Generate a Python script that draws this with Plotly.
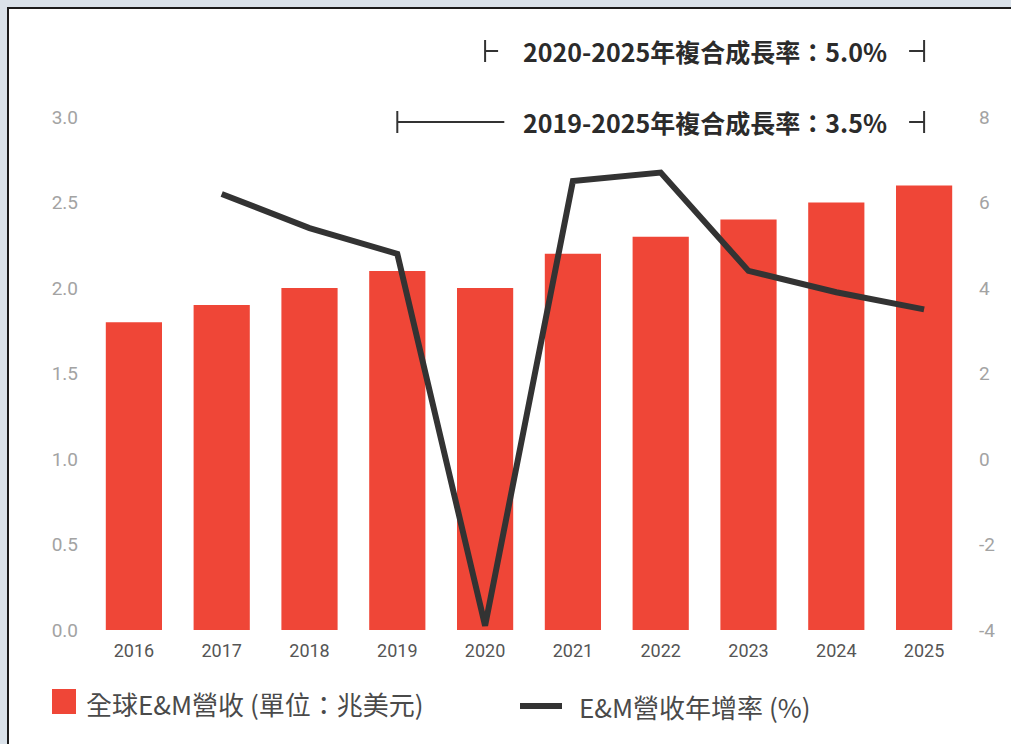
import plotly.graph_objects as go

# Global entertainment & media revenue and its annual growth rate
years = ["2016", "2017", "2018", "2019", "2020", "2021", "2022", "2023", "2024", "2025"]
revenue = [1.8, 1.9, 2.0, 2.1, 2.0, 2.2, 2.3, 2.4, 2.5, 2.6]          # trillion USD
growth = [None, 6.2, 5.4, 4.8, -3.9, 6.5, 6.7, 4.4, 3.9, 3.5]        # % YoY

left_ticks = [0, 0.5, 1.0, 1.5, 2.0, 2.5, 3.0]
right_ticks = [-4, -2, 0, 2, 4, 6, 8]

cagr_labels = ["2020-2025年複合成長率：5.0%", "2019-2025年複合成長率：3.5%"]
legend_labels = ["全球E&M營收 (單位：兆美元)", "E&M營收年增率 (%)"]

RED = "#ef4637"
DARK = "#333333"
CJK = "Noto Sans CJK TC, Noto Sans CJK SC, sans-serif"
NUM = "Liberation Sans Narrow, Roboto, Liberation Sans, sans-serif"

W, H = 1011, 744
ML, MR, MT, MB = 90, 43, 117, 114
PW, PH = W - ML - MR, H - MT - MB


def px_x(p):
    return (p - ML) / PW


def px_y(p):
    return (H - MB - p) / PH


fig = go.Figure()
fig.add_trace(go.Bar(
    x=years, y=revenue, marker=dict(color=RED, line=dict(width=0)),
    name=legend_labels[0], showlegend=False, yaxis="y",
))
fig.add_trace(go.Scatter(
    x=years, y=growth, mode="lines", line=dict(color=DARK, width=6),
    name=legend_labels[1], showlegend=False, yaxis="y2",
))

shapes = []
# white card with a dark frame
shapes.append(dict(type="rect", xref="paper", yref="paper", layer="below",
                   x0=px_x(8), x1=px_x(1030), y0=px_y(770), y1=px_y(8),
                   fillcolor="white", line=dict(color="#1c1c1c", width=2)))

# CAGR range brackets
i2019, i2020, i2025 = years.index("2019"), years.index("2020"), years.index("2025")
bracket_rows = [(i2020, 51, 13), (i2019, 122, 107)]
for start_idx, yc, stub in bracket_rows:
    # left vertical bar and stub
    shapes.append(dict(type="line", xref="x", yref="paper", x0=start_idx, x1=start_idx,
                       y0=px_y(yc - 11), y1=px_y(yc + 11), line=dict(color=DARK, width=2)))
    shapes.append(dict(type="line", xref="x", yref="paper", xsizemode="pixel", xanchor=start_idx,
                       x0=0, x1=stub, y0=px_y(yc), y1=px_y(yc), line=dict(color=DARK, width=2)))
    # right stub and vertical bar
    shapes.append(dict(type="line", xref="x", yref="paper", x0=i2025, x1=i2025,
                       y0=px_y(yc - 11), y1=px_y(yc + 11), line=dict(color=DARK, width=2)))
    shapes.append(dict(type="line", xref="x", yref="paper", xsizemode="pixel", xanchor=i2025,
                       x0=-15, x1=0, y0=px_y(yc), y1=px_y(yc), line=dict(color=DARK, width=2)))

# legend keys
shapes.append(dict(type="rect", xref="paper", yref="paper",
                   x0=px_x(52), x1=px_x(76), y0=px_y(714), y1=px_y(689),
                   fillcolor=RED, line=dict(width=0)))
shapes.append(dict(type="line", xref="paper", yref="paper",
                   x0=px_x(520), x1=px_x(562), y0=px_y(706), y1=px_y(706),
                   line=dict(color=DARK, width=6)))

annotations = []
for label, yc in zip(cagr_labels, [51, 122]):
    annotations.append(dict(text=label, xref="x", yref="paper", x=(i2020 + i2025) / 2,
                            y=px_y(yc), xanchor="center", yanchor="middle", showarrow=False,
                            font=dict(family=CJK, size=25, color="#2b2b2b", weight="bold")))
annotations.append(dict(text=legend_labels[0], xref="paper", yref="paper", x=px_x(84),
                        y=px_y(703), xanchor="left", yanchor="middle", showarrow=False,
                        font=dict(family=CJK, size=26, color="#4a4a4a")))
annotations.append(dict(text=legend_labels[1], xref="paper", yref="paper", x=px_x(577),
                        y=px_y(706), xanchor="left", yanchor="middle", showarrow=False,
                        font=dict(family=CJK, size=26, color="#4a4a4a")))

fig.update_layout(
    width=W, height=H,
    margin=dict(l=ML, r=MR, t=MT, b=MB, pad=0),
    paper_bgcolor="#dae2ea",
    plot_bgcolor="rgba(0,0,0,0)",
    bargap=0.36,
    showlegend=False,
    shapes=shapes,
    annotations=annotations,
    xaxis=dict(type="category", showgrid=False, zeroline=False, showline=False, ticks="",
               ticklabelstandoff=8,
               tickfont=dict(family=NUM, size=18, color="#555555")),
    yaxis=dict(range=[0, 3], tickvals=left_ticks, tickformat=".1f", showgrid=False,
               zeroline=False, showline=False, ticks="", ticklabelstandoff=11,
               tickfont=dict(family=NUM, size=19, color="#a3a3a3")),
    yaxis2=dict(range=[-4, 8], tickvals=right_ticks, ticktext=[str(t) for t in right_ticks],
                overlaying="y", side="right",
                showgrid=False, zeroline=False, showline=False, ticks="", ticklabelstandoff=10,
                tickfont=dict(family=NUM, size=19, color="#a3a3a3")),
)

fig.write_html("out.html")
